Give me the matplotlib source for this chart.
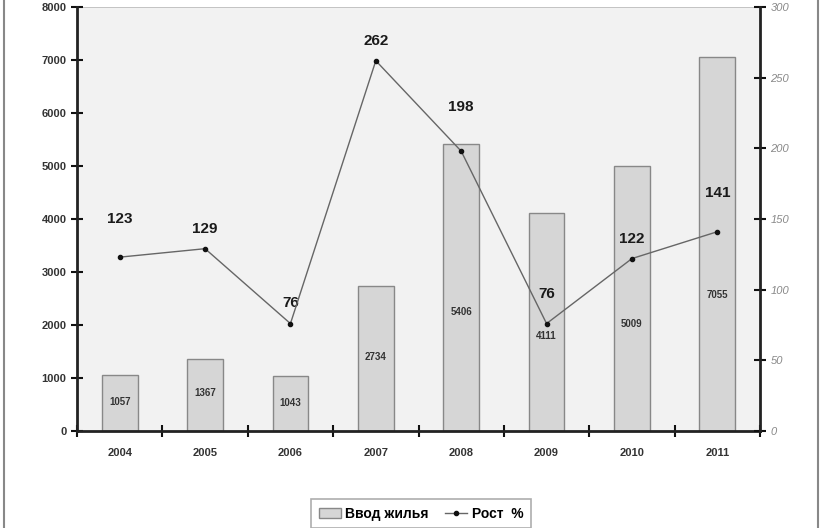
import matplotlib.pyplot as plt
from matplotlib.lines import Line2D

plt.rcParams['font.family'] = ['Liberation Sans', 'DejaVu Sans']

years = ["2004", "2005", "2006", "2007", "2008", "2009", "2010", "2011"]
housing = [1057, 1367, 1043, 2734, 5406, 4111, 5009, 7055]
growth = [123, 129, 76, 262, 198, 76, 122, 141]

# where the labels sit
bar_label_y = [547, 717, 528, 1400, 2245, 1792, 2019, 2566]
growth_label_off = [38, 20, 21, 20, 44, 30, 20, 39]

fig = plt.figure(figsize=(8.27, 5.28), dpi=100)
ax = fig.add_axes([77 / 827, 97 / 528, 683 / 827, 424 / 528])
ax.set_facecolor("#f2f2f2")

x = list(range(len(years)))
ax.bar(x, housing, width=0.42, color="#d6d6d6", edgecolor="#888888", linewidth=1.0, zorder=2)
for xi, v, ly in zip(x, housing, bar_label_y):
    ax.text(xi, ly, str(v), ha="center", va="center", fontsize=7, fontweight="bold",
            color="#333333", zorder=5)

ax.set_xlim(-0.5, len(years) - 0.5)
ax.set_ylim(0, 8000)
ax.set_yticks(range(0, 8001, 1000))
ax.set_xticks([i + 0.5 for i in range(-1, len(years))])
ax.set_xticklabels([])
ax.set_xticks(x, minor=True)
ax.set_xticklabels(years, minor=True, fontsize=8, fontweight="bold", color="#333333")
ax.tick_params(axis="x", which="minor", length=0, pad=12)
ax.tick_params(axis="x", which="major", direction="inout", length=8, width=1.5, color="#111111")
ax.tick_params(axis="y", direction="inout", length=8, width=1.5, color="#111111",
               labelsize=8, labelcolor="#333333")
for lab in ax.get_yticklabels():
    lab.set_fontweight("bold")
ax.axhline(8000, color="#bbbbbb", lw=1.2, zorder=1)

for s in ["top", "right"]:
    ax.spines[s].set_visible(False)
ax.spines["left"].set_linewidth(2)
ax.spines["bottom"].set_linewidth(2)
ax.spines["left"].set_color("#222222")
ax.spines["bottom"].set_color("#222222")

ax2 = ax.twinx()
ax2.plot(x, growth, color="#666666", lw=1.0, marker="o", markersize=3,
         markerfacecolor="#111111", markeredgecolor="#111111", zorder=4)
for xi, g, off in zip(x, growth, growth_label_off):
    ax2.annotate(str(g), (xi, g), xytext=(0, off), textcoords="offset pixels",
                 ha="center", va="center", fontsize=11, fontweight="bold", color="#1a1a1a")
ax2.set_ylim(0, 300)
ax2.set_yticks(range(0, 301, 50))
ax2.tick_params(axis="y", direction="inout", length=8, width=1.5, color="#111111",
                labelsize=8, labelcolor="#888888")
for lab in ax2.get_yticklabels():
    lab.set_fontstyle("italic")
for s in ["top", "left", "bottom"]:
    ax2.spines[s].set_visible(False)
ax2.spines["right"].set_linewidth(2)
ax2.spines["right"].set_color("#222222")

# outer frame lines
fig.add_artist(Line2D([4 / 827, 4 / 827], [0, 1], color="#888888", lw=1.5))
fig.add_artist(Line2D([818 / 827, 818 / 827], [0, 1], color="#888888", lw=1.5))

handles = [
    plt.Rectangle((0, 0), 1, 1, facecolor="#d6d6d6", edgecolor="#888888"),
    Line2D([], [], color="#666666", lw=1.0, marker="o", markersize=3,
           markerfacecolor="#111111", markeredgecolor="#111111"),
]
leg = fig.legend(handles, ["Ввод жилья", "Рост  %"], loc="upper center",
                 bbox_to_anchor=(421 / 827, 36 / 528), ncol=2, frameon=True,
                 fancybox=False, edgecolor="#999999", handlelength=1.6,
                 handletextpad=0.3, columnspacing=1.2, borderpad=0.55,
                 prop={"size": 10, "weight": "bold"})
leg.get_frame().set_linewidth(1.2)

fig.savefig("out.png", dpi=100)
